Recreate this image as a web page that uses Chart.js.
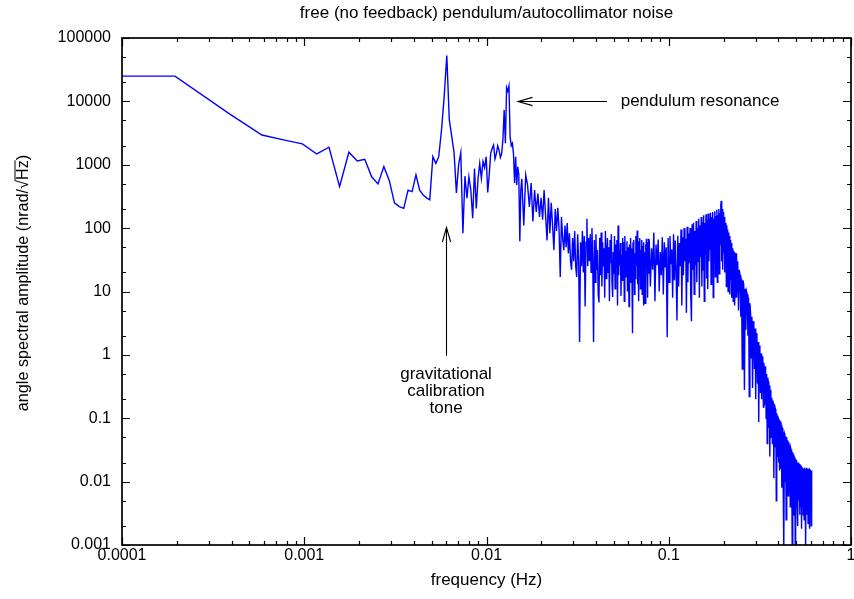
<!DOCTYPE html>
<html>
<head>
<meta charset="utf-8">
<title>free (no feedback) pendulum/autocollimator noise</title>
<script src="https://cdn.jsdelivr.net/npm/chart.js@4"></script>
<style>
  html, body { margin: 0; padding: 0; background: #fff; }
  canvas { display: block; }
</style>
</head>
<body>
<canvas id="psd" width="854" height="599"></canvas>
<script>
// FFT bin width of the spectrum (Hz)
const binHz = 1 / 5120;

// point on the left edge of the plot
const edgeFreq = 0.0001;
const edgeAmp = 25000;

// amplitude, nrad/rtHz -- bins 1..79, every bin
const ampBins1to79 = [
  25000, 6300, 2950, 2450, 2130, 1480, 1890, 452, 1575, 1150,
  1220, 645, 498, 934, 561, 251, 219, 205, 398, 376,
  692, 398, 334, 300, 279, 1340, 1050, 1340, 3540, 12000,
  53000, 5100, 2800, 1540, 360, 1000, 1550, 83, 660, 296,
  645, 400, 143, 875, 205, 600, 1050, 612, 1125, 900,
  1340, 365, 700, 1520, 1800, 2040, 1235, 1500, 1990, 1700,
  1300, 1490, 2500, 7300, 2180, 16500, 14500, 17500, 2760, 2000,
  2180, 1500, 515, 1340, 480, 930, 700, 62, 400
];

// bins 80..398, every 2nd bin
const ampBins80to398 = [
  600, 110, 690, 480, 216, 515, 127, 400, 180, 350,
  150, 300, 136, 400, 160, 64, 300, 83, 250, 110,
  45, 200, 90, 210, 100, 17, 150, 70, 45, 110,
  50, 120, 40, 83, 30, 22, 70, 30, 90, 25,
  17, 80, 30, 1.6, 60, 25, 90, 20, 75, 5.8,
  60, 140, 25, 70, 30, 80, 20, 100, 30, 1.6,
  65, 14, 80, 22, 45, 9, 6.7, 70, 18, 85,
  12, 60, 25, 48, 8, 90, 16, 40, 70, 20,
  50, 7, 65, 28, 80, 14, 8.2, 42, 19, 75,
  11, 55, 24, 65, 6, 110, 18, 45, 26, 58,
  8.5, 38, 15, 70, 22, 60, 7, 75, 17, 44,
  25, 62, 10, 50, 20, 5.8, 55, 14, 70, 30,
  48, 12, 2.2, 60, 21, 65, 9, 40, 16, 75,
  26, 55, 92, 13, 38, 7, 62, 23, 70, 11,
  45, 28, 65, 9, 52, 18, 60, 6, 42, 24,
  6.5, 55, 15, 68, 27, 48, 8, 60, 19, 66
];

// bins 400..1198, every 6th bin
const ampBins400to1198 = [
  65, 12, 48, 22, 85, 7, 55, 26, 66, 10,
  42, 18, 72, 9, 60, 24, 50, 1.9, 70, 14,
  75, 27, 46, 8, 80, 15, 64, 20, 3.5, 76,
  12, 58, 25, 95, 6, 72, 18, 100, 30, 68,
  4.6, 105, 14, 82, 28, 100, 9, 3.4, 115, 22,
  122, 9, 90, 26, 130, 14, 100, 30, 140, 8,
  110, 35, 150, 12, 125, 22, 160, 7, 120, 38,
  165, 16, 135, 11, 170, 30, 140, 45, 175, 13,
  150, 28, 180, 8, 140, 40, 185, 17, 155, 50,
  195, 14, 160, 35, 200, 19, 175, 55, 230, 270,
  30, 200, 22, 180, 40, 150, 20, 130, 30, 120,
  12, 110, 20, 95, 10, 85, 18, 75, 9, 65,
  15, 58, 8, 52, 12, 48, 7, 44, 10, 42,
  6, 40, 8, 38
];

// bins 1200..3120, every 12th bin
const ampBins1200to3120 = [
  40, 8, 30, 5, 22, 18, 4, 16, 0.6, 15,
  13, 0.28, 11, 2.5, 10, 9, 2, 8, 0.22, 6.5,
  4.5, 0.9, 4, 0.3, 3.4, 3, 0.6, 2.6, 0.2, 2.2,
  1.8, 0.35, 1.6, 0.087, 1.4, 1.2, 0.25, 1.05, 0.2, 0.95,
  0.85, 0.15, 0.75, 0.16, 0.66, 0.58, 0.1, 0.5, 0.04, 0.44,
  0.38, 0.07, 0.33, 0.025, 0.28, 0.24, 0.05, 0.21, 0.04, 0.19,
  0.17, 0.0113, 0.16, 0.035, 0.14, 0.13, 0.005, 0.12, 0.025, 0.11,
  0.10, 0.02, 0.095, 0.015, 0.09, 0.08, 0.016, 0.075, 0.008, 0.07,
  0.065, 0.012, 0.06, 0.0008, 0.058, 0.055, 0.01, 0.052, 0.0025, 0.05,
  0.048, 0.009, 0.045, 0.006, 0.042, 0.038, 0.007, 0.036, 0.004, 0.034,
  0.032, 0.006, 0.03, 0.0009, 0.029, 0.028, 0.005, 0.027, 0.003, 0.025,
  0.024, 0.0008, 0.023, 0.004, 0.022, 0.021, 0.004, 0.02, 0.002, 0.02,
  0.019, 0.005, 0.019, 0.003, 0.018, 0.0177, 0.004, 0.017, 0.0018, 0.017,
  0.0165, 0.004, 0.016, 0.003, 0.016, 0.016, 0.0025, 0.0165, 0.004, 0.015,
  0.016, 0.0009, 0.015, 0.003, 0.0165, 0.015, 0.004, 0.016, 0.0022, 0.015,
  0.016, 0.003, 0.015, 0.0018, 0.0155, 0.015, 0.004, 0.0145, 0.002, 0.015,
  0.0145
];

const xDecades = [0.0001, 0.001, 0.01, 0.1, 1];
const xTickLabels = ['0.0001', '0.001', '0.01', '0.1', '1'];
const yDecades = [0.001, 0.01, 0.1, 1, 10, 100, 1000, 10000, 100000];
const yTickLabels = ['0.001', '0.01', '0.1', '1', '10', '100', '1000', '10000', '100000'];
const xMinorSteps = [2, 3, 4, 5, 6, 7, 8, 9];
const yMinorSteps = [2, 5];

// arrows + notes, in data coords
const notes = {
  resonance: { from: [0.0458, 10000], to: [0.0149, 10000], text: 'pendulum resonance', at: [0.0545, 10000] },
  calTone: { from: [0.006, 0.97], to: [0.006, 102], lines: ['gravitational', 'calibration', 'tone'], at: [0.006, 0.49] }
};

function runOfBins(firstBin, step, amps) {
  return amps.map((a, i) => ({ x: (firstBin + i * step) * binHz, y: a }));
}

const spectrum = [{ x: edgeFreq, y: edgeAmp }]
  .concat(runOfBins(1, 1, ampBins1to79))
  .concat(runOfBins(80, 2, ampBins80to398))
  .concat(runOfBins(400, 6, ampBins400to1198))
  .concat(runOfBins(1200, 12, ampBins1200to3120));

const labelFont = '16px "Liberation Sans", Arial, sans-serif';
const textFont = '17px "Liberation Sans", Arial, sans-serif';
const yNameFont = '16.2px "Liberation Sans", Arial, sans-serif';

function arrow(ctx, x0, y0, x1, y1) {
  const ang = Math.atan2(y1 - y0, x1 - x0), len = 15, spread = 0.28;
  ctx.beginPath();
  ctx.moveTo(x0, y0);
  ctx.lineTo(x1, y1);
  ctx.moveTo(x1 - len * Math.cos(ang - spread), y1 - len * Math.sin(ang - spread));
  ctx.lineTo(x1, y1);
  ctx.lineTo(x1 - len * Math.cos(ang + spread), y1 - len * Math.sin(ang + spread));
  ctx.stroke();
}

// gnuplot-ish border: inward ticks on all four sides, labels, arrows
const border = {
  id: 'border',
  afterDraw(chart) {
    const ctx = chart.ctx, a = chart.chartArea;
    const xs = chart.scales.x, ys = chart.scales.y;
    ctx.save();
    ctx.strokeStyle = '#000';
    ctx.fillStyle = '#000';
    ctx.lineWidth = 1.2;

    ctx.beginPath();
    const tick = (v, len) => {
      const px = Math.round(xs.getPixelForValue(v)) + 0.5;
      ctx.moveTo(px, a.bottom); ctx.lineTo(px, a.bottom - len);
      ctx.moveTo(px, a.top); ctx.lineTo(px, a.top + len);
    };
    const ytick = (v, len) => {
      const py = Math.round(ys.getPixelForValue(v)) + 0.5;
      ctx.moveTo(a.left, py); ctx.lineTo(a.left + len, py);
      ctx.moveTo(a.right, py); ctx.lineTo(a.right - len, py);
    };
    xDecades.forEach((d, i) => {
      tick(d, 8);
      if (i < xDecades.length - 1) xMinorSteps.forEach(m => tick(d * m, 4));
    });
    yDecades.forEach((d, i) => {
      ytick(d, 8);
      if (i < yDecades.length - 1) yMinorSteps.forEach(m => ytick(d * m, 4));
    });
    ctx.stroke();

    ctx.lineWidth = 1.7;
    ctx.strokeRect(a.left, a.top, a.right - a.left, a.bottom - a.top);

    // tick labels
    ctx.font = labelFont;
    ctx.textAlign = 'center';
    ctx.textBaseline = 'middle';
    xDecades.forEach((d, i) => ctx.fillText(xTickLabels[i], xs.getPixelForValue(d), a.bottom + 11));
    ctx.textAlign = 'right';
    yDecades.forEach((d, i) => ctx.fillText(yTickLabels[i], a.left - 11, ys.getPixelForValue(d)));

    // title and axis names
    ctx.font = textFont;
    ctx.textAlign = 'center';
    const cx = (a.left + a.right) / 2;
    ctx.fillText('free (no feedback) pendulum/autocollimator noise', cx, 13);
    ctx.fillText('frequency (Hz)', cx, 580);

    // y axis name, with a bar over Hz under the root sign
    ctx.save();
    ctx.font = yNameFont;
    ctx.translate(22, 283);
    ctx.rotate(-Math.PI / 2);
    ctx.textAlign = 'left';
    ctx.textBaseline = 'alphabetic';
    const parts = ['angle spectral amplitude (nrad/', '\u221A', 'Hz', ')'];
    const widths = parts.map(p => ctx.measureText(p).width);
    let u = -widths.reduce((s, w) => s + w, 0) / 2;
    const base = 6;
    parts.forEach((p, i) => {
      ctx.fillText(p, u, base);
      if (i === 2) {
        ctx.lineWidth = 1;
        ctx.beginPath();
        ctx.moveTo(u - 1, base - 13);
        ctx.lineTo(u + widths[i], base - 13);
        ctx.stroke();
      }
      u += widths[i];
    });
    ctx.restore();

    // annotations
    ctx.lineWidth = 1.1;
    const P = (pt) => [xs.getPixelForValue(pt[0]), ys.getPixelForValue(pt[1])];
    const r = notes.resonance;
    const rf = P(r.from), rt = P(r.to), ra = P(r.at);
    arrow(ctx, rf[0], Math.round(rf[1]) + 0.5, rt[0], Math.round(rt[1]) + 0.5);
    ctx.textAlign = 'left';
    ctx.fillText(r.text, ra[0], ra[1]);

    const c = notes.calTone;
    const cf = P(c.from), ct = P(c.to), ca = P(c.at);
    arrow(ctx, Math.round(cf[0]) + 0.5, cf[1], Math.round(ct[0]) + 0.5, ct[1]);
    ctx.textAlign = 'center';
    c.lines.forEach((t, i) => ctx.fillText(t, ca[0], ca[1] + i * 17));
    ctx.restore();
  }
};

new Chart(document.getElementById('psd'), {
  type: 'line',
  data: {
    datasets: [{
      data: spectrum,
      borderColor: '#0000ff',
      borderWidth: 1.4,
      pointRadius: 0,
      tension: 0,
      fill: false
    }]
  },
  options: {
    responsive: false,
    animation: false,
    events: [],
    layout: { padding: { left: 122, right: 3, top: 38, bottom: 54 } },
    plugins: { legend: { display: false }, tooltip: { enabled: false } },
    scales: {
      x: { type: 'logarithmic', min: 0.0001, max: 1, display: false },
      y: { type: 'logarithmic', min: 0.001, max: 100000, display: false }
    }
  },
  plugins: [border]
});
</script>
</body>
</html>
